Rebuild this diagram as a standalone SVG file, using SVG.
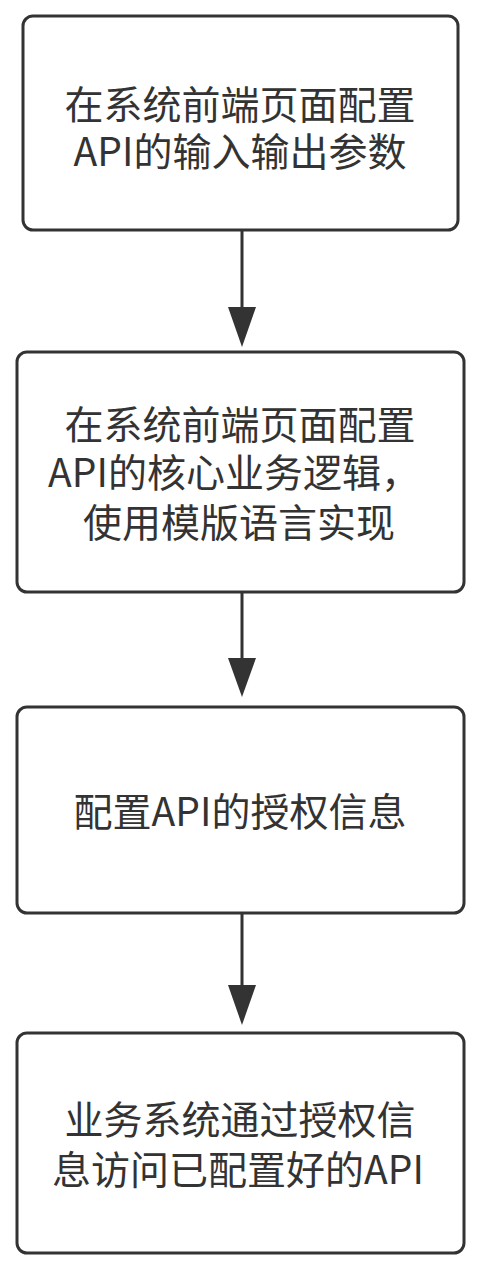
<svg xmlns="http://www.w3.org/2000/svg" width="481" height="1269" viewBox="0 0 481 1269">
<style>
.box{fill:#fff;stroke:#333;stroke-width:3}
.t{font-family:"Noto Sans CJK SC","Microsoft YaHei",sans-serif;font-size:39px;fill:#333;text-anchor:middle}
.ln{stroke:#333;stroke-width:3;fill:none}
.ah{fill:#333}
</style>
<rect width="481" height="1269" fill="#fff"/>
<g id="n1">
<rect class="box" x="23" y="16" width="435" height="214" rx="10"/>
<text class="t" x="240" y="119">在系统前端页面配置</text>
<text class="t" x="240" y="166">API的输入输出参数</text>
</g>
<g id="n2">
<rect class="box" x="17" y="352" width="447" height="240" rx="10"/>
<text class="t" x="240" y="439">在系统前端页面配置</text>
<text class="t" x="234" y="487">API的核心业务逻辑，</text>
<text class="t" x="239" y="537">使用模版语言实现</text>
</g>
<g id="n3">
<rect class="box" x="17" y="707" width="447" height="206" rx="10"/>
<text class="t" x="240" y="826">配置API的授权信息</text>
</g>
<g id="n4">
<rect class="box" x="17" y="1033" width="447" height="220" rx="10"/>
<text class="t" x="240" y="1134">业务系统通过授权信</text>
<text class="t" x="238" y="1184">息访问已配置好的API</text>
</g>
<g id="connectors">
<line class="ln" x1="242" y1="231" x2="242" y2="308"/>
<polygon class="ah" points="228,307 256,307 242,347"/>
<line class="ln" x1="242" y1="593" x2="242" y2="659"/>
<polygon class="ah" points="228,658 256,658 242,697"/>
<line class="ln" x1="242" y1="914" x2="242" y2="986"/>
<polygon class="ah" points="228,985 256,985 242,1025"/>
</g>
</svg>
